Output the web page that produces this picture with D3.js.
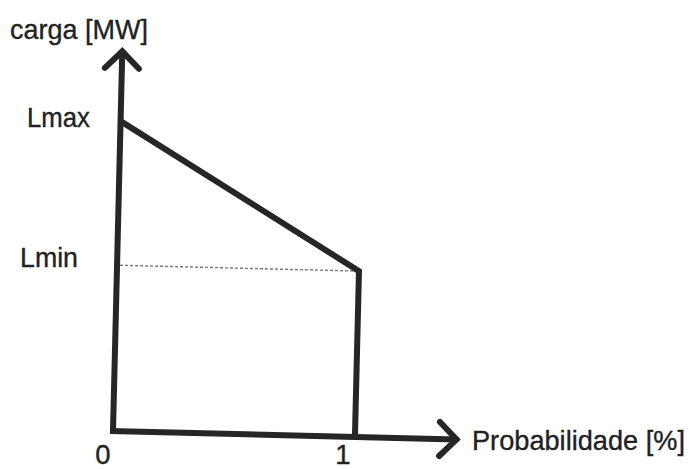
<!DOCTYPE html>
<html>
<head>
<meta charset="utf-8">
<script src="https://cdn.jsdelivr.net/npm/d3@7"></script>
<style>
  html, body { margin: 0; padding: 0; background: #fff; }
  svg text { font-family: "Liberation Sans", Arial, Helvetica, sans-serif; fill: #222; stroke: #222; stroke-width: 0.35px; }
</style>
</head>
<body>
<script>
// Load duration curve: load (MW) against probability
const xTickValues = [0, 1];
const xTickLabels = ["0", "1"];
const levelNames = ["Lmax", "Lmin"];
const levelValues = [1.0, 0.535];
// curve vertices: probability and load
const curveProb = [0, 1, 1];
const curveLoad = [1.0, 0.535, 0];
const xAxisTitle = "Probabilidade [%]";
const yAxisTitle = "carga [MW]";

const W = 691, H = 469;
const origin = { x: 113, y: 431 };
const tilt = 1.4; // the drawing sits slightly askew

const svg = d3.select("body").append("svg")
  .attr("width", W).attr("height", H);

const x = d3.scaleLinear().domain([0, 1]).range([0, 242]);
const y = d3.scaleLinear().domain([0, 1]).range([0, -310]);
const xEnd = 1.42, yEnd = 1.225;

const g = svg.append("g")
  .attr("transform", `translate(${origin.x},${origin.y}) rotate(${tilt})`);

const ink = "#262626";
const sw = 6;

// axes
g.append("line")
  .attr("x1", x(0)).attr("y1", y(0)).attr("x2", x(0)).attr("y2", y(yEnd))
  .attr("stroke", ink).attr("stroke-width", sw);
g.append("line")
  .attr("x1", x(0) - 3).attr("y1", y(0)).attr("x2", x(xEnd)).attr("y2", y(0))
  .attr("stroke", ink).attr("stroke-width", sw);

// open arrowheads
const a = 17;
g.append("path")
  .attr("d", `M${x(0) - a},${y(yEnd) + a} L${x(0)},${y(yEnd)} L${x(0) + a},${y(yEnd) + a}`)
  .attr("fill", "none").attr("stroke", ink).attr("stroke-width", sw)
  .attr("stroke-linejoin", "miter").attr("stroke-linecap", "round");
g.append("path")
  .attr("d", `M${x(xEnd) - a},${y(0) - a} L${x(xEnd)},${y(0)} L${x(xEnd) - a},${y(0) + a}`)
  .attr("fill", "none").attr("stroke", ink).attr("stroke-width", sw)
  .attr("stroke-linejoin", "miter").attr("stroke-linecap", "round");

// dotted guide at the minimum load
g.append("line")
  .attr("x1", x(0) + 3).attr("y1", y(levelValues[1]))
  .attr("x2", x(1)).attr("y2", y(levelValues[1]))
  .attr("stroke", "#777").attr("stroke-width", 1.4)
  .attr("stroke-dasharray", "3,2");

// the curve
const curve = curveProb.map((p, i) => [p, curveLoad[i]]);
g.append("path")
  .datum(curve)
  .attr("d", d3.line().x(d => x(d[0])).y(d => y(d[1])))
  .attr("fill", "none").attr("stroke", ink).attr("stroke-width", sw)
  .attr("stroke-linejoin", "miter");

// labels (upright text, placed at the tilted positions)
function place(px, py) {
  const r = tilt * Math.PI / 180;
  return [origin.x + px * Math.cos(r) - py * Math.sin(r),
          origin.y + px * Math.sin(r) + py * Math.cos(r)];
}

const fs = 27.5;
svg.append("text").attr("x", 10).attr("y", 39)
  .attr("font-size", fs).attr("textLength", 138).attr("lengthAdjust", "spacingAndGlyphs")
  .text(yAxisTitle);

const levelLen = [63, 58];
levelNames.forEach((n, i) => {
  const [, py] = place(x(0), y(levelValues[i]));
  svg.append("text").attr("x", [27, 20][i]).attr("y", py + 6 - i * 4)
    .attr("font-size", fs).attr("textLength", levelLen[i]).attr("lengthAdjust", "spacingAndGlyphs")
    .text(n);
});

xTickValues.forEach((v, i) => {
  const [px] = place(x(v), 0);
  svg.append("text").attr("x", px - 10 - i * 2).attr("y", 464)
    .attr("text-anchor", "middle").attr("font-size", fs)
    .text(xTickLabels[i]);
});

svg.append("text").attr("x", 472).attr("y", 450)
  .attr("font-size", fs).attr("textLength", 213).attr("lengthAdjust", "spacingAndGlyphs")
  .text(xAxisTitle);
</script>
</body>
</html>
